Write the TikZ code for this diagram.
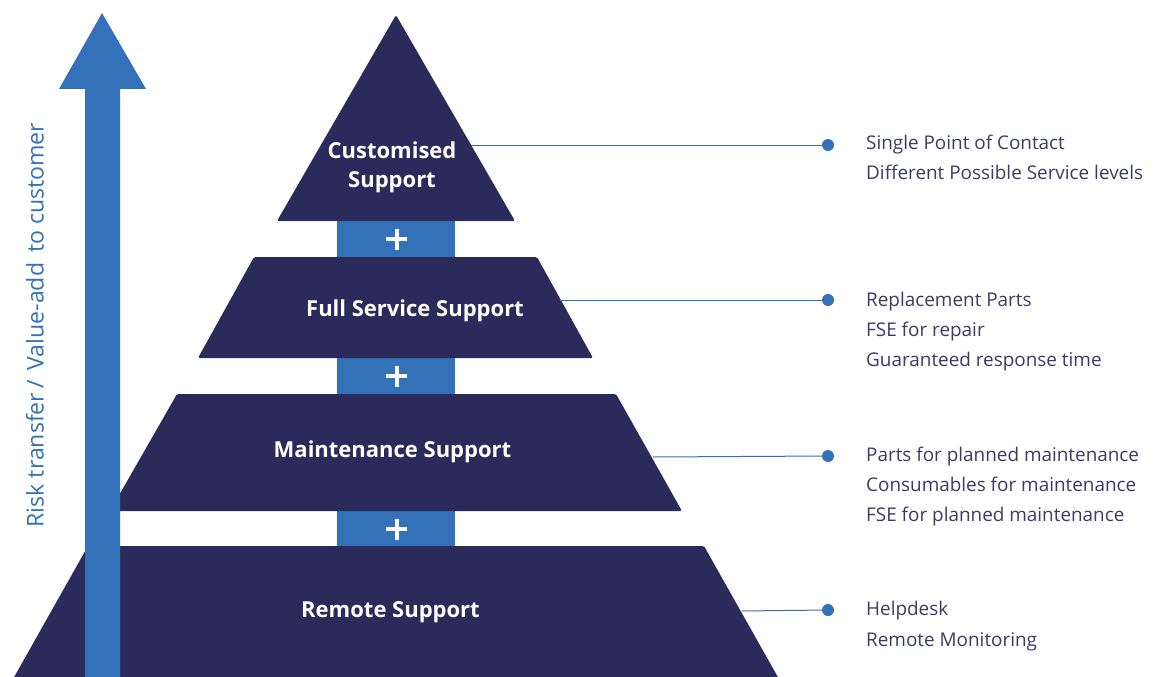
\documentclass[tikz,border=0pt]{standalone}
\usepackage{fontspec}
\setmainfont{Open Sans}
\definecolor{navy}{HTML}{2A2B5B}
\definecolor{sblue}{HTML}{3372B8}
\definecolor{txt}{HTML}{3B3C66}
\begin{document}
\begin{tikzpicture}[x=1pt,y=-1pt,
  tier/.style={fill=navy, rounded corners=1.5pt},
  bar/.style={fill=sblue},
  plusmark/.style={draw=white, line width=4pt},
  tierlabel/.style={text=white, font=\fontsize{22}{28.5}\selectfont\bfseries, anchor=base, inner sep=0pt, align=center},
  item/.style={text=txt, font=\fontsize{18.9}{20}\selectfont, anchor=base west, inner sep=0pt},
  conn/.style={draw=sblue, line width=1pt},
  dotm/.style={circle, fill=sblue, minimum size=12pt, inner sep=0pt}
]
\useasboundingbox (0,0) rectangle (1157,677);
% connector bars
\fill[bar] (337,219) rectangle (455,260);
\fill[bar] (337,356) rectangle (455,396);
\fill[bar] (337,509) rectangle (455,548);
% tiers
\fill[tier] (277,221) -- (396,15) -- (515,221) -- cycle;
\fill[tier] (254,257) -- (537,257) -- (593,358) -- (198,358) -- cycle;
\fill[tier] (177,394) -- (616,394) -- (682,511) -- (110,511) -- cycle;
\fill[tier] (88,546) -- (704,546) -- (779,679) -- (13,679) -- cycle;
% plus signs
\foreach \yy in {239,376,529} {
  \draw[plusmark] (386,\yy) -- (407,\yy);
  \draw[plusmark] (396.5,\yy-10.5) -- (396.5,\yy+10.5);
}
% big arrow
\fill[sblue] (85,680) -- (85,89) -- (59,89) -- (102,13) -- (146,89) -- (120,89) -- (120,680) -- cycle;
\node[text=sblue, font=\fontsize{23.1}{26}\selectfont, rotate=90, inner sep=0pt] (axis) at (35,325) {Risk transfer\,/\, Value-add\, to customer};
% tier labels
\node[tierlabel] (t1) at (392,187) {Customised\\Support};
\node[tierlabel] (t2) at (415,316.5) {Full Service Support};
\node[tierlabel] (t3) at (392.5,457.5) {Maintenance Support};
\node[tierlabel] (t4) at (390.5,617.5) {Remote Support};
% connector end points
\coordinate (e1) at (471,145);
\coordinate (e2) at (560,300);
\coordinate (e3) at (653,457);
\coordinate (e4) at (742,611);
\node[dotm] (d1) at (828,145) {};
\node[dotm] (d2) at (828,300) {};
\node[dotm] (d3) at (828,456) {};
\node[dotm] (d4) at (828,610) {};
\draw[conn] (e1) -- (d1.center);
\draw[conn] (e2) -- (d2.center);
\draw[conn] (e3) -- (d3.center);
\draw[conn] (e4) -- (d4.center);
% items
\node[item] (a1) at (866,149.5) {Single Point of Contact};
\node[item] (a2) at (866,179.5) {Different Possible Service levels};
\node[item] (b1) at (866,306) {Replacement Parts};
\node[item] (b2) at (866,336) {FSE for repair};
\node[item] (b3) at (866,366.5) {Guaranteed response time};
\node[item] (c1) at (866,461.5) {Parts for planned maintenance};
\node[item] (c2) at (866,491.5) {Consumables for maintenance};
\node[item] (c3) at (866,521.5) {FSE for planned maintenance};
\node[item] (f1) at (866,615.5) {Helpdesk};
\node[item] (f2) at (866,646.5) {Remote Monitoring};
\end{tikzpicture}
\end{document}
